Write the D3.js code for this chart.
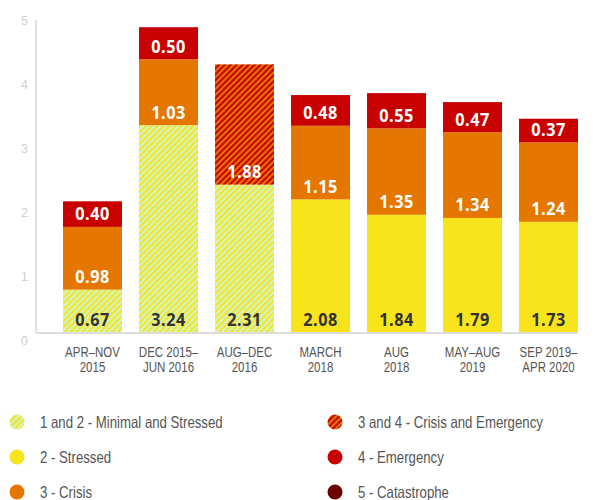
<!DOCTYPE html>
<html>
<head>
<meta charset="utf-8">
<script src="https://cdn.jsdelivr.net/npm/d3@7/dist/d3.min.js"></script>
<style>
  html, body { margin: 0; padding: 0; background: #fff; }
  svg { display: block; }
  text { font-family: "Liberation Sans", Arial, sans-serif; }
</style>
</head>
<body>
<svg id="chart" width="598" height="500"></svg>
<script>
// Periods shown on the x axis (two lines each)
const periods = [
  ["APR–NOV", "2015"],
  ["DEC 2015–", "JUN 2016"],
  ["AUG–DEC", "2016"],
  ["MARCH", "2018"],
  ["AUG", "2018"],
  ["MAY–AUG", "2019"],
  ["SEP 2019–", "APR 2020"]
];

// Population in each IPC phase (millions); null = not reported for that period
const minimalStressed   = [0.67, 3.24, 2.31, null, null, null, null];
const stressed          = [null, null, null, 2.08, 1.84, 1.79, 1.73];
const crisis            = [0.98, 1.03, null, 1.15, 1.35, 1.34, 1.24];
const crisisEmergency   = [null, null, 1.88, null, null, null, null];
const emergency         = [0.40, 0.50, null, 0.48, 0.55, 0.47, 0.37];
const catastrophe       = [null, null, null, null, null, null, null];

const yTicks = [0, 1, 2, 3, 4, 5];

const phases = [
  { key: "minStr",  label: "1 and 2 - Minimal and Stressed", values: minimalStressed, fill: "url(#hatchYM)", text: "#333" },
  { key: "str",     label: "2 - Stressed",                   values: stressed,        fill: "#f8e41d",       text: "#333" },
  { key: "cri",     label: "3 - Crisis",                     values: crisis,          fill: "#e57700",       text: "#fff" },
  { key: "criEm",   label: "3 and 4 - Crisis and Emergency", values: crisisEmergency, fill: "url(#hatchRO)", text: "#fff" },
  { key: "em",      label: "4 - Emergency",                  values: emergency,       fill: "#c80000",       text: "#fff" },
  { key: "cat",     label: "5 - Catastrophe",                values: catastrophe,     fill: "#6b0000",       text: "#fff" }
];

const svg = d3.select("#chart");

// Condensed-looking text: a regular face squeezed horizontally
function narrowText(parent, x, y, sx) {
  return parent.append("text")
    .attr("transform", `translate(${x},${y}) scale(${sx},1)`);
}

// Diagonal two-colour stripe fills
const defs = svg.append("defs");
function stripes(id, c1, c2) {
  const p = defs.append("pattern")
    .attr("id", id)
    .attr("patternUnits", "userSpaceOnUse")
    .attr("width", 4.2).attr("height", 4.2)
    .attr("patternTransform", "rotate(45)");
  p.append("rect").attr("width", 4.2).attr("height", 4.2).attr("fill", c1);
  p.append("rect").attr("width", 2.1).attr("height", 4.2).attr("fill", c2);
}
stripes("hatchYM", "#ffe31a", "#c8f7d2");
stripes("hatchRO", "#c80000", "#e57700");

const rows = periods.map((p, i) => {
  const r = { period: p.join(" ") };
  phases.forEach(ph => { r[ph.key] = ph.values[i] == null ? 0 : ph.values[i]; });
  return r;
});

const x = d3.scaleBand()
  .domain(rows.map(r => r.period))
  .range([54.5, 586.5])
  .paddingInner(0.224)
  .paddingOuter(0.112);

const y = d3.scaleLinear().domain([0, 5]).range([332.5, 12.5]);

// Vertical axis line and tick labels
svg.append("line")
  .attr("x1", 36).attr("x2", 36)
  .attr("y1", 20).attr("y2", y(0))
  .attr("stroke", "#cfcfcf").attr("stroke-width", 1.2);

const yAxis = svg.append("g")
  .attr("transform", "translate(28,0)")
  .call(d3.axisLeft(y).tickValues(yTicks).tickSize(0).tickPadding(0).tickFormat(d3.format("d")));
yAxis.select(".domain").remove();
yAxis.selectAll("text")
  .attr("dy", "0.95em")
  .attr("fill", "#d0d0d0")
  .style("font-size", "12.5px")
  .style("font-family", "\"Liberation Sans\", Arial, sans-serif");

// Stacked bars
const stack = d3.stack().keys(phases.map(p => p.key));
const layers = stack(rows);

const g = svg.append("g");
layers.forEach((layer, li) => {
  const ph = phases[li];
  layer.forEach((seg, i) => {
    const v = seg[1] - seg[0];
    if (v <= 0) return;
    const xp = x(rows[i].period);
    g.append("rect")
      .attr("x", xp)
      .attr("y", y(seg[1]))
      .attr("width", x.bandwidth())
      .attr("height", y(seg[0]) - y(seg[1]))
      .attr("fill", ph.fill);
    narrowText(g, xp + x.bandwidth() / 2, y(seg[0]) - 6.5, 0.88)
      .attr("text-anchor", "middle")
      .attr("fill", ph.text)
      .style("font-family", "\"Open Sans\", \"Liberation Sans\", sans-serif")
      .style("font-size", "18.5px")
      .style("font-weight", "700")
      .style("letter-spacing", "0.5px")
      .text(d3.format(".2f")(v));
  });
});

// Baseline
svg.append("line")
  .attr("x1", 36).attr("x2", 578)
  .attr("y1", y(0) + 0.5).attr("y2", y(0) + 0.5)
  .attr("stroke", "#dddddd").attr("stroke-width", 2);

// Category labels
const xl = svg.append("g");
rows.forEach((r, i) => {
  const cx = x(r.period) + x.bandwidth() / 2;
  const t = narrowText(xl, cx, 357, 0.82)
    .attr("text-anchor", "middle")
    .attr("fill", "#555")
    .style("font-size", "14px");
  periods[i].forEach((line, k) => {
    t.append("tspan")
      .attr("x", 0)
      .attr("dy", k === 0 ? 0 : 15.5)
      .text(line);
  });
});

// Legend in two columns
const legend = svg.append("g");
const colX = [17, 335];
const rowY = [422, 457, 492];
phases.forEach((ph, i) => {
  const col = Math.floor(i / 3), row = i % 3;
  const item = legend.append("g").attr("transform", `translate(${colX[col]},${rowY[row]})`);
  item.append("circle").attr("r", 7.5).attr("fill", ph.fill);
  narrowText(item, 23, 5.8, 0.8)
    .attr("fill", "#555")
    .style("font-size", "16.5px")
    .text(ph.label);
});
</script>
</body>
</html>
